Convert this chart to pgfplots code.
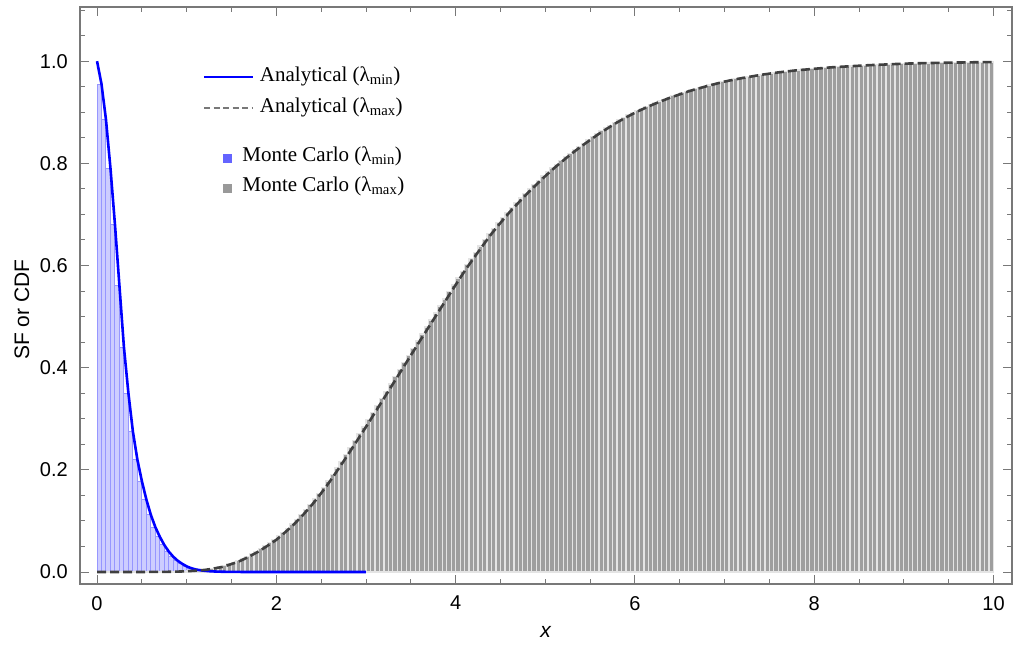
\documentclass[border=0pt]{standalone}
\usepackage{pgfplots}
\pgfplotsset{compat=1.18}
\usepackage{pgfplotstable}
\usepackage{fontspec}
\setmainfont{Liberation Serif}
\setsansfont{Liberation Sans}
\definecolor{mcblue}{RGB}{0,0,255}
\definecolor{barblue}{RGB}{205,205,255}
\definecolor{baredge}{RGB}{150,150,255}
\definecolor{bargray}{RGB}{158,158,158}
\definecolor{bargrayedge}{RGB}{228,228,228}
\definecolor{dashgray}{RGB}{64,64,64}
\definecolor{framegray}{RGB}{120,120,120}
\definecolor{legblue}{RGB}{100,100,255}
\definecolor{leggray}{RGB}{153,153,153}
\definecolor{legdash}{RGB}{120,120,120}

\pgfplotstableread{
x sf cdf
0.00 1.000 0
0.05 0.955 0
0.10 0.885 0
0.15 0.790 0
0.20 0.680 0
0.25 0.560 0
0.30 0.440 0
0.35 0.350 0
0.40 0.275 0
0.45 0.220 0
0.50 0.178 0.00005
0.55 0.142 0.0001
0.60 0.112 0.0001
0.65 0.088 0.00015
0.70 0.069 0.0002
0.75 0.053 0.0003
0.80 0.040 0.0004
0.85 0.030 0.0006
0.90 0.022 0.0008
0.95 0.016 0.0011
1.00 0.011 0.0015
1.05 0.0075 0.0020
1.10 0.0050 0.0026
1.15 0.0035 0.0033
1.20 0.0024 0.0040
1.25 0.0016 0.0053
1.30 0.0011 0.0068
1.35 0.0007 0.0084
1.40 0.0005 0.0100
1.45 0.0003 0.0127
1.50 0.0002 0.0156
1.55 0.0001 0.0187
1.60 0.0001 0.0220
1.65 0 0.0262
1.70 0 0.0306
1.75 0 0.0352
1.80 0 0.0400
1.85 0 0.0455
1.90 0 0.0512
1.95 0 0.0570
2.00 0 0.0630
2.05 0 0.0705
2.10 0 0.0780
2.15 0 0.0858
2.20 0 0.0940
2.25 0 0.1030
2.30 0 0.1122
2.35 0 0.1220
2.40 0 0.1320
2.45 0 0.1430
2.50 0 0.1543
2.55 0 0.1660
2.60 0 0.1780
2.65 0 0.1908
2.70 0 0.2037
2.75 0 0.2168
2.80 0 0.2300
2.85 0 0.2435
2.90 0 0.2570
2.95 0 0.2705
3.00 0 0.2840
3.05 0 0.2980
3.10 0 0.3120
3.15 0 0.3260
3.20 0 0.3400
3.25 0 0.3540
3.30 0 0.3680
3.35 0 0.3820
3.40 0 0.3960
3.45 0 0.4100
3.50 0 0.4240
3.55 0 0.4380
3.60 0 0.4520
3.65 0 0.4658
3.70 0 0.4795
3.75 0 0.4933
3.80 0 0.5070
3.85 0 0.5208
3.90 0 0.5345
3.95 0 0.5483
4.00 0 0.5620
4.05 0 0.5755
4.10 0 0.5888
4.15 0 0.6016
4.20 0 0.6140
4.25 0 0.6262
4.30 0 0.6382
4.35 0 0.6502
4.40 0 0.6620
4.45 0 0.6728
4.50 0 0.6834
4.55 0 0.6938
4.60 0 0.7040
4.65 0 0.7135
4.70 0 0.7228
4.75 0 0.7320
4.80 0 0.7410
4.85 0 0.7497
4.90 0 0.7582
4.95 0 0.7666
5.00 0 0.7750
5.05 0 0.7830
5.10 0 0.7908
5.15 0 0.7983
5.20 0 0.8055
5.25 0 0.8127
5.30 0 0.8197
5.35 0 0.8265
5.40 0 0.8330
5.45 0 0.8394
5.50 0 0.8456
5.55 0 0.8518
5.60 0 0.8580
5.65 0 0.8636
5.70 0 0.8691
5.75 0 0.8746
5.80 0 0.8800
5.85 0 0.8849
5.90 0 0.8897
5.95 0 0.8944
6.00 0 0.8990
6.05 0 0.9032
6.10 0 0.9072
6.15 0 0.9111
6.20 0 0.9150
6.25 0 0.9186
6.30 0 0.9221
6.35 0 0.9255
6.40 0 0.9290
6.45 0 0.9320
6.50 0 0.9350
6.55 0 0.9380
6.60 0 0.9410
6.65 0 0.9436
6.70 0 0.9461
6.75 0 0.9485
6.80 0 0.9510
6.85 0 0.9533
6.90 0 0.9555
6.95 0 0.9578
7.00 0 0.9600
7.05 0 0.9618
7.10 0 0.9636
7.15 0 0.9653
7.20 0 0.9670
7.25 0 0.9685
7.30 0 0.9700
7.35 0 0.9715
7.40 0 0.9730
7.45 0 0.9743
7.50 0 0.9755
7.55 0 0.9768
7.60 0 0.9780
7.65 0 0.9790
7.70 0 0.9800
7.75 0 0.9810
7.80 0 0.9820
7.85 0 0.9828
7.90 0 0.9835
7.95 0 0.9843
8.00 0 0.9850
8.05 0 0.9858
8.10 0 0.9865
8.15 0 0.9873
8.20 0 0.9880
8.25 0 0.9885
8.30 0 0.9890
8.35 0 0.9895
8.40 0 0.9900
8.45 0 0.9905
8.50 0 0.9910
8.55 0 0.9915
8.60 0 0.9920
8.65 0 0.9924
8.70 0 0.9928
8.75 0 0.9931
8.80 0 0.9935
8.85 0 0.9939
8.90 0 0.9943
8.95 0 0.9946
9.00 0 0.9950
9.05 0 0.9953
9.10 0 0.9955
9.15 0 0.9958
9.20 0 0.9960
9.25 0 0.9962
9.30 0 0.9964
9.35 0 0.9965
9.40 0 0.9967
9.45 0 0.9969
9.50 0 0.9970
9.55 0 0.9972
9.60 0 0.9973
9.65 0 0.9974
9.70 0 0.9976
9.75 0 0.9977
9.80 0 0.9978
9.85 0 0.9979
9.90 0 0.9980
9.95 0 0.9981
10.00 0 0.9982
}\data

\begin{document}
\begin{tikzpicture}
\begin{axis}[
  at={(0,0)}, anchor=south west,
  scale only axis, width=932pt, height=577pt,
  xmin=-0.19, xmax=10.206, ymin=-0.0235, ymax=1.106,
  axis line style={framegray, line width=1.2pt},
  xtick={0,2,4,6,8,10},
  ytick={0,0.2,0.4,0.6,0.8,1},
  minor xtick={0,0.5,...,10},
  minor ytick={0,0.05,...,1.1},
  tick style={framegray, line width=0.9pt},
  major tick length=9pt, minor tick length=5pt,
  tick label style={font=\sffamily\fontsize{20}{23}\selectfont, black},
  /pgf/number format/assume math mode=true,
  yticklabel={\pgfmathprintnumber[fixed, fixed zerofill, precision=1]{\tick}},
  yticklabel style={inner sep=0pt, xshift=-12pt},
  xticklabel style={inner sep=0pt, yshift=-12pt},
  xlabel={\textit{x}},
  ylabel={SF or CDF},
  label style={font=\sffamily\fontsize{21}{24}\selectfont},
  xlabel style={at={(axis description cs:0.5,0)}, anchor=center, yshift=-48pt},
  ylabel style={at={(axis description cs:0,0.5)}, anchor=center, yshift=58pt, xshift=-14pt},
  legend style={at={(axis cs:1.182,0.988)}, anchor=north west, draw=none, fill=none,
    inner sep=0pt, outer sep=0pt, row sep=12pt, column sep=6pt,
    nodes={inner sep=0pt, text height=14pt, text depth=5pt, font=\rmfamily\fontsize{21}{24}\selectfont}},
  legend cell align=left,
  legend image code/.code={\draw[#1] (0pt,0pt) -- (49pt,0pt);},
]
\addplot[ybar, bar width=0.05, fill=barblue, draw=baredge, line width=1pt,
  restrict x to domain=0.01:1.6, forget plot]
  table[x expr=\thisrow{x}-0.025, y=sf] {\data};
\addplot[ybar, bar width=0.05, fill=bargray, draw=bargrayedge, line width=1.2pt,
  restrict x to domain=0.01:10.01, forget plot]
  table[x expr=\thisrow{x}-0.025, y=cdf] {\data};
\addplot[mcblue, line width=2.6pt, line join=round, restrict x to domain=0:3, forget plot]
  table[x=x, y=sf] {\data};
\addplot[dashgray, line width=2.6pt, dash pattern=on 9pt off 4pt, forget plot]
  table[x=x, y=cdf] {\data};
\addlegendimage{mcblue, line width=2pt}
\addlegendentry{Analytical (λ\textsubscript{min})}
\addlegendimage{legdash, line width=2pt, dash pattern=on 6pt off 3.5pt}
\addlegendentry{Analytical (λ\textsubscript{max})}
\end{axis}
\begin{axis}[
  at={(0,0)}, anchor=south west,
  scale only axis, width=932pt, height=577pt,
  xmin=-0.19, xmax=10.206, ymin=-0.0235, ymax=1.106,
  hide axis,
  legend style={at={(axis cs:1.405,0.831)}, anchor=north west, draw=none, fill=none,
    inner sep=0pt, outer sep=0pt, row sep=11pt, column sep=11pt,
    nodes={inner sep=0pt, text height=14pt, text depth=5pt, font=\rmfamily\fontsize{21}{24}\selectfont}},
  legend cell align=left,
  legend image code/.code={\fill[#1] (0pt,-5.5pt) rectangle (8pt,2.5pt);},
]
\addlegendimage{legblue}
\addlegendentry{Monte Carlo (λ\textsubscript{min})}
\addlegendimage{leggray}
\addlegendentry{Monte Carlo (λ\textsubscript{max})}
\end{axis}
\pgfresetboundingbox
\path (-80pt,-65pt) rectangle (933pt,584pt);
\end{tikzpicture}
\end{document}
